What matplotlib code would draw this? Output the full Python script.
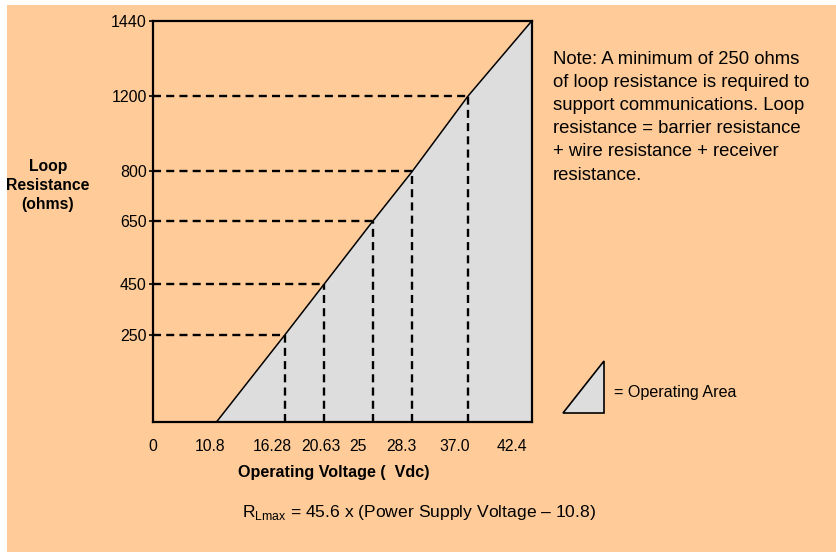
import numpy as np
import matplotlib
matplotlib.use("Agg")
import matplotlib.pyplot as plt
from matplotlib.patches import Rectangle, Polygon
from matplotlib.transforms import ScaledTranslation

plt.rcParams['font.family'] = ['Liberation Sans', 'DejaVu Sans']
plt.rcParams['mathtext.fontset'] = 'custom'
plt.rcParams['mathtext.rm'] = 'Liberation Sans'

# data
voltages = [10.8, 16.28, 20.63, 25.0, 28.3, 37.0, 42.4]
resistances = [0, 250, 450, 650, 800, 1200, 1440]
x_ticks = [0, 10.8, 16.28, 20.63, 25, 28.3, 37.0, 42.4]
x_labels = ['0', '10.8', '16.28', '20.63', '25', '28.3', '37.0', '42.4']
y_ticks = [250, 450, 650, 800, 1200, 1440]
note = ("Note: A minimum of 250 ohms\nof loop resistance is required to\n"
        "support communications. Loop\nresistance = barrier resistance\n"
        "+ wire resistance + receiver\nresistance.")

PEACH = '#FFCC99'
GRAY = '#DDDDDD'
W, H = 837, 552

# the drawing is a schematic: tick values are not evenly spaced,
# so map them onto the axis with a piecewise scale
x_knots = [0, 10.8, 16.28, 20.63, 25.0, 28.3, 37.0, 42.4]
x_place = [0, 63.7, 132, 171, 219.7, 259.3, 315.3, 379]
y_knots = [0, 250, 450, 650, 800, 1200, 1440]
y_place = [0, 87, 137.4, 200.4, 250.4, 326, 401]


def fx(v):
    return np.interp(v, x_knots, x_place)


def fx_inv(v):
    return np.interp(v, x_place, x_knots)


def fy(v):
    return np.interp(v, y_knots, y_place)


def fy_inv(v):
    return np.interp(v, y_place, y_knots)


def px(x):
    return x / W


def py(y):
    return 1 - y / H


fig = plt.figure(figsize=(W / 100, H / 100), dpi=100, facecolor='white')
fig.patches.append(Rectangle((px(7), 0), 1, py(5), transform=fig.transFigure,
                             facecolor=PEACH, edgecolor='none', zorder=-10))

ax = fig.add_axes([px(153), py(421.7), px(532) - px(153), py(20.7) - py(421.7)])
ax.set_facecolor(PEACH)
ax.set_xscale('function', functions=(fx, fx_inv))
ax.set_yscale('function', functions=(fy, fy_inv))
ax.set_xlim(0, 42.4)
ax.set_ylim(0, 1440)

ax.fill_between(voltages, resistances, 0, color=GRAY, zorder=1)
ax.plot(voltages, resistances, color='black', lw=1.1, zorder=3)

dash = (0, (3.4, 2.2))
for v, r in zip(voltages[1:-1], resistances[1:-1]):
    ax.plot([0, v], [r, r], color='black', lw=1.7, linestyle=dash, zorder=2)
    ax.plot([v, v], [0, r], color='black', lw=1.7, linestyle=dash, zorder=2)

for s in ax.spines.values():
    s.set_linewidth(1.6)
    s.set_zorder(4)

ax.set_yticks(y_ticks)
ax.set_yticklabels([str(t) for t in y_ticks])
ax.tick_params(axis='y', length=3, width=1.2, pad=1.5, labelsize=11.5)
ax.set_xticks(x_ticks)
ax.set_xticklabels(x_labels)
ax.tick_params(axis='x', length=0, pad=12.5, labelsize=11.3)
ax.minorticks_off()

# tick labels in the original sit a little left of their values
shifts = [0, -6.7, -13, -3, -14.7, -11, -14, -20]
for lab, dx in zip(ax.get_xticklabels(), shifts):
    lab.set_transform(lab.get_transform() + ScaledTranslation(dx / 100, 0, fig.dpi_scale_trans))

fig.text(px(48), py(185.5), 'Loop\nResistance\n(ohms)', ha='center', va='center',
         multialignment='center', fontsize=11.3, fontweight='bold', linespacing=1.32)
fig.text(px(334), py(472.7), 'Operating Voltage (  Vdc)', ha='center', va='center',
         fontsize=11.6, fontweight='bold')
fig.text(px(552.7), py(51), note, ha='left', va='top', fontsize=13.3, linespacing=1.47)
fig.text(px(242), py(513), r'R$_{\mathrm{Lmax}}$ = 45.6 x (Power Supply Voltage – 10.8)',
         ha='left', va='center', fontsize=12.6)

tri = Polygon([(px(562.7), py(412.7)), (px(604.3), py(412.7)), (px(604.3), py(360.7))],
              closed=True, transform=fig.transFigure, facecolor=GRAY,
              edgecolor='black', lw=1.2)
fig.patches.append(tri)
fig.text(px(614), py(392), '= Operating Area', ha='left', va='center', fontsize=11.6)

fig.savefig('out.png', dpi=100, facecolor=fig.get_facecolor())
